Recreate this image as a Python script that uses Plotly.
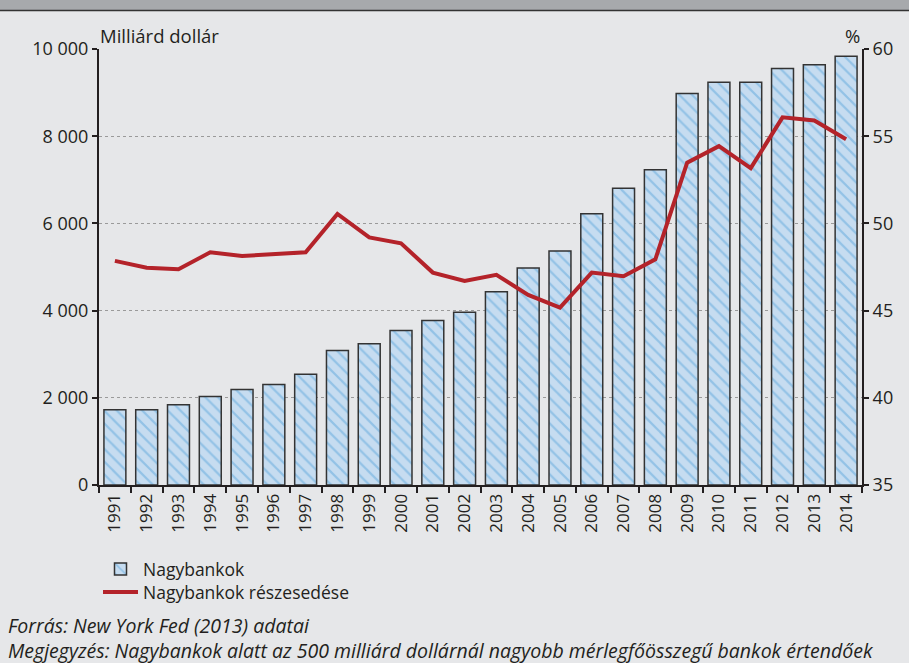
import plotly.graph_objects as go

years = [str(y) for y in range(1991, 2015)]
assets = [1725, 1725, 1840, 2030, 2190, 2305, 2543, 3084, 3237, 3542, 3771, 3963,
          4435, 4978, 5368, 6220, 6804, 7230, 8981, 9240, 9240, 9553, 9636, 9835]
share = [47.85, 47.46, 47.37, 48.34, 48.13, 48.25, 48.34, 50.54, 49.2, 48.86, 47.18, 46.70,
         47.05, 45.9, 45.17, 47.18, 46.97, 47.94, 53.48, 54.43, 53.17, 56.08, 55.9, 54.82]

left_ticks = [0, 2000, 4000, 6000, 8000, 10000]
left_ticktext = ["0", "2 000", "4 000", "6 000", "8 000", "10 000"]
right_ticks = [35, 40, 45, 50, 55, 60]

FONT = "Open Sans"
TXT = "#231f20"
BG = "#e6e7e9"

# plot area geometry in pixels
W, H = 909, 663
L, R, T, B = 99, 47, 49, 178
PW, PH = W - L - R, H - T - B

def px(x):
    return (x - L) / PW

def py(y):
    return (H - B - y) / PH

fig = go.Figure()
fig.add_trace(go.Bar(
    x=years, y=assets, name="Nagybankok", legend="legend",
    marker=dict(color="#c6dcf0", line=dict(color="#333333", width=1.5),
                pattern=dict(shape="\\", fgcolor="#5fa8dc", bgcolor="#c6dcf0",
                             size=9, solidity=0.25)),
))
fig.add_trace(go.Scatter(
    x=years, y=share, name="Nagybankok részesedése", yaxis="y2", legend="legend2",
    mode="lines", line=dict(color="#b4232a", width=4),
))

leg_common = dict(xanchor="left", yanchor="middle", bgcolor="rgba(0,0,0,0)",
                  font=dict(size=17.5, color=TXT), itemwidth=35)

fig.update_layout(
    width=W, height=H,
    margin=dict(l=L, r=R, t=T, b=B),
    paper_bgcolor=BG, plot_bgcolor=BG,
    font=dict(family=FONT, size=17, color=TXT),
    bargap=0.31,
    showlegend=True,
    legend=dict(x=px(98), y=py(569), **leg_common),
    legend2=dict(x=px(98), y=py(592), **leg_common),
    xaxis=dict(type="category", showline=True, linecolor="#231f20", linewidth=2,
               ticks="outside", tickson="boundaries", ticklen=6, tickwidth=2,
               tickcolor="#231f20", tickangle=-90, showgrid=False,
               tickfont=dict(size=17)),
    yaxis=dict(range=[0, 10000], tickvals=left_ticks, ticktext=left_ticktext,
               showline=True, linecolor="#231f20", linewidth=2,
               ticks="outside", ticklen=5, tickwidth=2, tickcolor="#231f20",
               showgrid=True, gridcolor="#9a9a9a", griddash="dot", gridwidth=1,
               zeroline=False, tickfont=dict(size=18)),
    yaxis2=dict(range=[35, 60], tickvals=right_ticks, overlaying="y", side="right",
                showline=True, linecolor="#231f20", linewidth=2,
                ticks="outside", ticklen=5, tickwidth=2, tickcolor="#231f20",
                showgrid=False, zeroline=False, tickfont=dict(size=18)),
    shapes=[
        dict(type="rect", xref="paper", yref="paper", x0=px(-2), x1=px(W + 2),
             y0=py(10), y1=py(-2), fillcolor="#a7a9ac", line=dict(width=0), layer="above"),
        dict(type="line", xref="paper", yref="paper", x0=px(-2), x1=px(W + 2),
             y0=py(10.5), y1=py(10.5), line=dict(color="#333333", width=1.5)),
    ],
    annotations=[
        dict(text="Milliárd dollár", x=px(98), y=py(35), xref="paper", yref="paper",
             xanchor="left", yanchor="middle", showarrow=False, font=dict(size=18.5)),
        dict(text="%", x=px(852), y=py(35), xref="paper", yref="paper",
             xanchor="center", yanchor="middle", showarrow=False, font=dict(size=18.5)),
        dict(text="<i>Forrás: New York Fed (2013) adatai</i>", x=px(6), y=py(625),
             xref="paper", yref="paper", xanchor="left", yanchor="middle",
             showarrow=False, font=dict(size=19.5)),
        dict(text="<i>Megjegyzés: Nagybankok alatt az 500 milliárd dollárnál nagyobb "
                  "mérlegfőösszegű bankok értendőek</i>", x=px(6), y=py(650),
             xref="paper", yref="paper", xanchor="left", yanchor="middle",
             showarrow=False, font=dict(size=19.5)),
    ],
)

fig.write_html("out.html",
               config={"displayModeBar": False},
               post_script="document.body.style.margin='0';"
                           "document.body.style.background='#e6e7e9';")
